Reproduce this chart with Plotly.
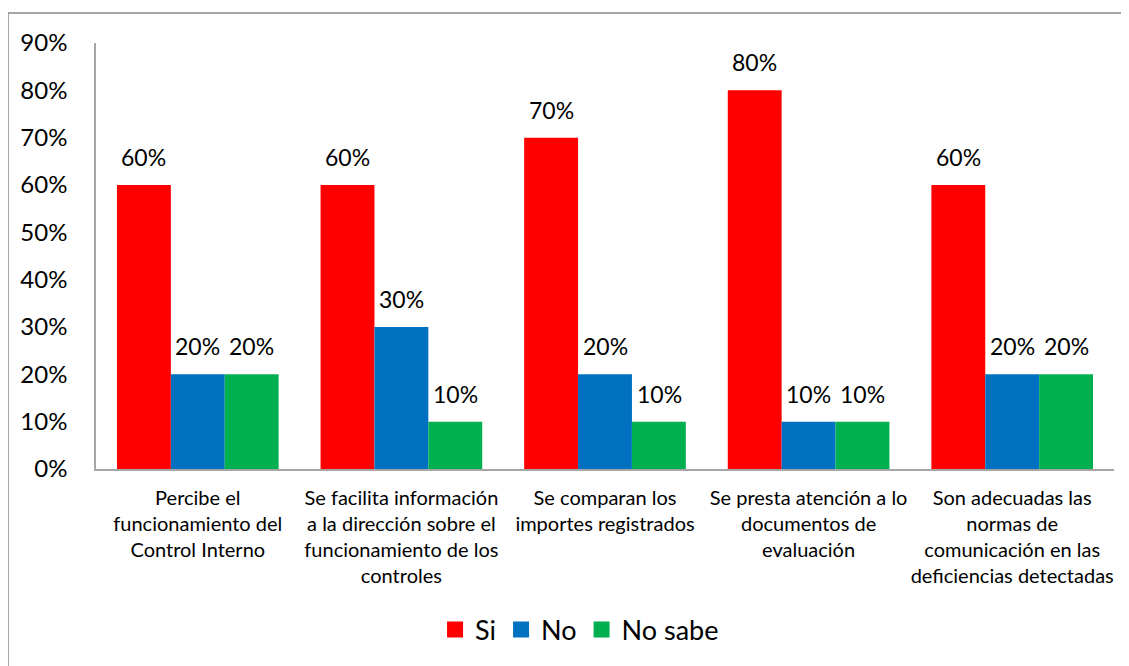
import plotly.graph_objects as go

categories = [
    "Percibe el<br>funcionamiento del<br>Control Interno",
    "Se facilita información<br>a la dirección sobre el<br>funcionamiento de los<br>controles",
    "Se comparan los<br>importes registrados",
    "Se presta atención a lo<br>documentos de<br>evaluación",
    "Son adecuadas las<br>normas de<br>comunicación en las<br>deficiencias detectadas",
]
series_names = ["Si", "No", "No sabe"]
si_values = [0.6, 0.6, 0.7, 0.8, 0.6]
no_values = [0.2, 0.3, 0.2, 0.1, 0.2]
nosabe_values = [0.2, 0.1, 0.1, 0.1, 0.2]
colors = ["#FF0000", "#0070C0", "#00B050"]
y_ticks = [0, 0.1, 0.2, 0.3, 0.4, 0.5, 0.6, 0.7, 0.8, 0.9]

FONT = "Lato"
all_values = [si_values, no_values, nosabe_values]

fig = go.Figure()
for name, vals, col in zip(series_names, all_values, colors):
    fig.add_trace(go.Bar(x=categories, y=vals, name=name, marker_color=col,
                         marker_line_width=0, showlegend=False))
# legend entries with larger square swatches
for name, col in zip(series_names, colors):
    fig.add_trace(go.Scatter(x=[None], y=[None], mode="markers", name=name,
                             marker=dict(symbol="square", size=18, color=col)))

bar_px = 54
annotations = []
for i, vals in enumerate(all_values):
    for c, v in zip(categories, vals):
        annotations.append(dict(x=c, y=v, text=f"{round(v*100)}%", showarrow=False,
                                xref="x", yref="y", yanchor="bottom",
                                xshift=(i - 1) * bar_px, yshift=12,
                                font=dict(family=FONT, size=23, color="#000000")))

# outer border (top and left lines visible)
plot_w = 1129 - 88 - 23
bx = (0 - 88) / plot_w
by = (461 - 5) / 426
shapes = [
    dict(type="line", xref="paper", yref="paper", x0=bx, x1=1.1,
         y0=by, y1=by, line=dict(color="#888888", width=1.5)),
    dict(type="line", xref="paper", yref="paper", x0=bx, x1=bx,
         y0=by, y1=-0.6, line=dict(color="#888888", width=1.5)),
]

fig.update_layout(
    width=1129, height=666,
    margin=dict(l=88, r=23, t=35, b=205),
    paper_bgcolor="white", plot_bgcolor="white",
    barmode="group", bargap=0.206, bargroupgap=0,
    font=dict(family=FONT, color="#000000"),
    showlegend=True,
    legend=dict(orientation="h", x=0.475, xanchor="center", y=-0.378, yanchor="middle",
                font=dict(family=FONT, size=27, color="#000000"),
                itemwidth=30, traceorder="normal"),
    annotations=annotations,
    shapes=shapes,
)
fig.update_yaxes(range=[0, 0.9], tickvals=y_ticks, tickformat=".0%",
                 showgrid=False, zeroline=False, showline=True, linecolor="#A6A6A6",
                 linewidth=1.5, ticks="", ticklabelstandoff=22,
                 tickfont=dict(family=FONT, size=24, color="#000000"))
fig.update_xaxes(showgrid=False, showline=True, linecolor="#A6A6A6", linewidth=1.5,
                 ticks="", tickangle=0, ticklabelstandoff=10, range=[-0.5, 4.5],
                 tickfont=dict(family=FONT, size=20, color="#000000"))

fig.write_html("out.html")
